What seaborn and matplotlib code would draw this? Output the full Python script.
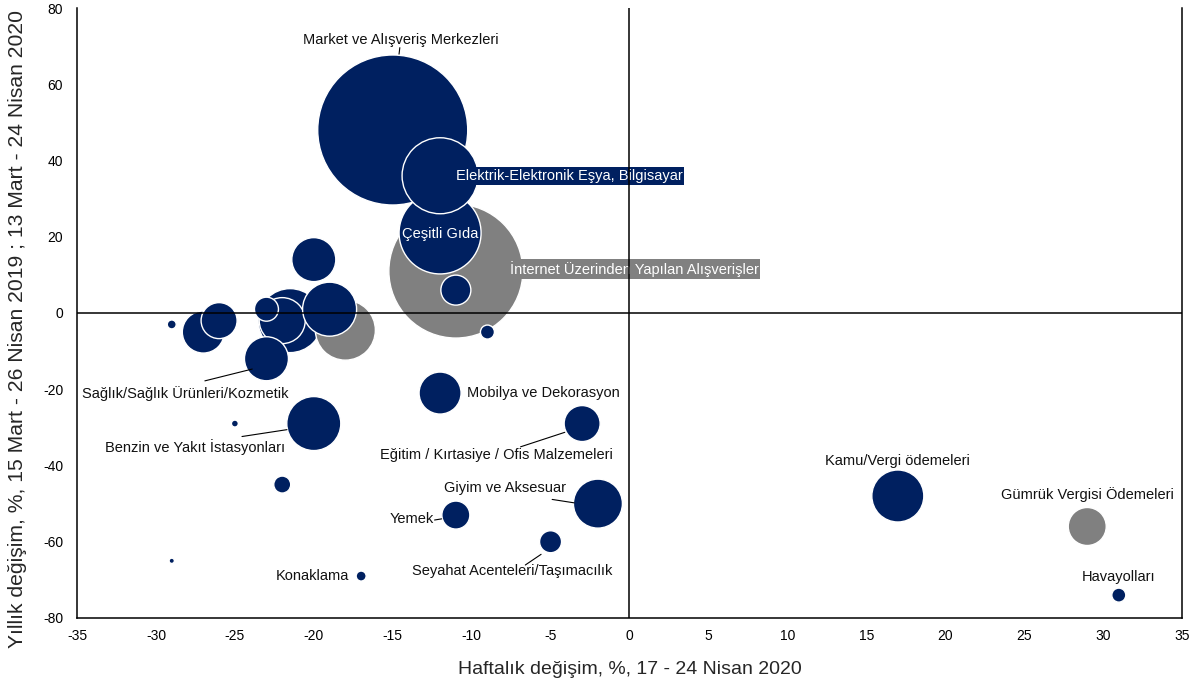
import matplotlib
matplotlib.use("Agg")
import matplotlib.pyplot as plt
import seaborn as sns
import pandas as pd

sns.set_style("white")
plt.rcParams['font.family'] = ['Liberation Sans', 'DejaVu Sans']

NAVY = "#002060"
GREY = "#808080"

# ---- data ----
haftalik = [-15, -11, -12, -12, -11, -9, -21.5, -18, -22, -19, -20, -23, -23, -27, -26, -29,
            -20, -25, -22, -29, -17, -12, -3, -2, -11, -5, 17, 29, 31]
yillik = [48, 11, 21, 36, 6, -5, -2, -4.5, -2, 1, 14, 1, -12, -5, -2, -3,
          -29, -29, -45, -65, -69, -21, -29, -50, -53, -60, -48, -56, -74]
hacim = [5625, 4489, 1681, 1444, 225, 49, 1024, 900, 529, 729, 484, 144, 484, 441, 324, 20,
         729, 12, 72, 7, 25, 441, 324, 600, 196, 121, 676, 361, 49]
grup = ["A", "B", "A", "A", "A", "A", "A", "B", "A", "A", "A", "A", "A", "A", "A", "A",
        "A", "A", "A", "A", "A", "A", "A", "A", "A", "A", "A", "B", "A"]

x_ticks = list(range(-35, 36, 5))
y_ticks = list(range(-80, 81, 20))

df = pd.DataFrame({"x": haftalik, "y": yillik, "s": hacim, "g": grup})

fig = plt.figure(figsize=(11.98, 6.84), dpi=100)
ax = fig.add_axes([0.0643, 0.0965, 0.9223, 0.8918])

smax = max(hacim)
sns.scatterplot(data=df, x="x", y="y", size="s", hue="g",
                palette={"A": NAVY, "B": GREY},
                sizes=(0, 2.0736 * smax), size_norm=(0, smax),
                edgecolor="white", linewidth=1.0, alpha=1,
                legend=False, ax=ax, zorder=3)

ax.set_xlim(-35, 35)
ax.set_ylim(-80, 80)
ax.set_xticks(x_ticks)
ax.set_yticks(y_ticks)
ax.set_xticklabels([str(v) for v in x_ticks])
ax.set_yticklabels([str(v) for v in y_ticks])
ax.tick_params(axis='both', direction='out', length=4, width=1.1, colors='black',
               labelsize=10)
ax.tick_params(axis='x', pad=4)
ax.tick_params(axis='y', pad=6)

for side in ['left', 'bottom', 'right']:
    ax.spines[side].set_visible(True)
    ax.spines[side].set_color('black')
    ax.spines[side].set_linewidth(1.1)
ax.spines['top'].set_visible(False)

ax.axhline(0, color='black', lw=1.1, zorder=10)
ax.axvline(0, color='black', lw=1.1, zorder=10)

ax.set_xlabel("Haftalık değişim, %, 17 - 24 Nisan 2020", fontsize=14, labelpad=13)
ax.set_ylabel("Yıllık değişim, %, 15 Mart - 26 Nisan 2019 ; 13 Mart - 24 Nisan 2020",
              fontsize=15.2)
ax.yaxis.label.set_va('center')
ax.yaxis.set_label_coords(-0.0543, 0.474)

fs = 10.5
def lab(tx, ty, s, ha='center', color='#111111', bbox=None):
    ax.text(tx, ty, s, ha=ha, va='center', fontsize=fs, color=color, bbox=bbox, zorder=6)

def lead(x0, y0, x1, y1):
    ax.plot([x0, x1], [y0, y1], color='black', lw=0.8, zorder=6)

lab(-14.5, 71.6, "Market ve Alışveriş Merkezleri")
lead(-14.55, 69.6, -14.6, 67.9)
lab(-11.0, 36, "Elektrik-Elektronik Eşya, Bilgisayar", ha='left', color='white',
    bbox=dict(boxstyle='square,pad=0.12', fc=NAVY, ec='none'))
lab(-12, 20.7, "Çeşitli Gıda", color='white')
lab(-7.6, 11.5, "İnternet Üzerinden Yapılan Alışverişler", ha='left', color='white',
    bbox=dict(boxstyle='square,pad=0.12', fc=GREY, ec='none'))
lab(-28.15, -21.2, "Sağlık/Sağlık Ürünleri/Kozmetik")
lead(-26.9, -17.8, -23.9, -14.7)
lab(-27.5, -35.1, "Benzin ve Yakıt İstasyonları")
lead(-24.55, -32.4, -21.7, -30.6)
lab(-10.3, -21, "Mobilya ve Dekorasyon", ha='left')
lab(-8.45, -37.2, "Eğitim / Kırtasiye / Ofis Malzemeleri")
lead(-6.9, -35.1, -4.1, -31.3)
lab(-7.9, -45.9, "Giyim ve Aksesuar")
lead(-4.9, -48.9, -3.5, -49.8)
lab(-13.8, -54, "Yemek")
lead(-12.35, -54.3, -11.9, -54.0)
lab(-7.45, -67.7, "Seyahat Acenteleri/Taşımacılık")
lead(-6.6, -66.1, -5.6, -63.3)
lab(-20.1, -69, "Konaklama")
lab(17, -38.8, "Kamu/Vergi ödemeleri")
lab(29, -47.7, "Gümrük Vergisi Ödemeleri")
lab(31, -69.2, "Havayolları")

fig.savefig("out.png", dpi=100)
